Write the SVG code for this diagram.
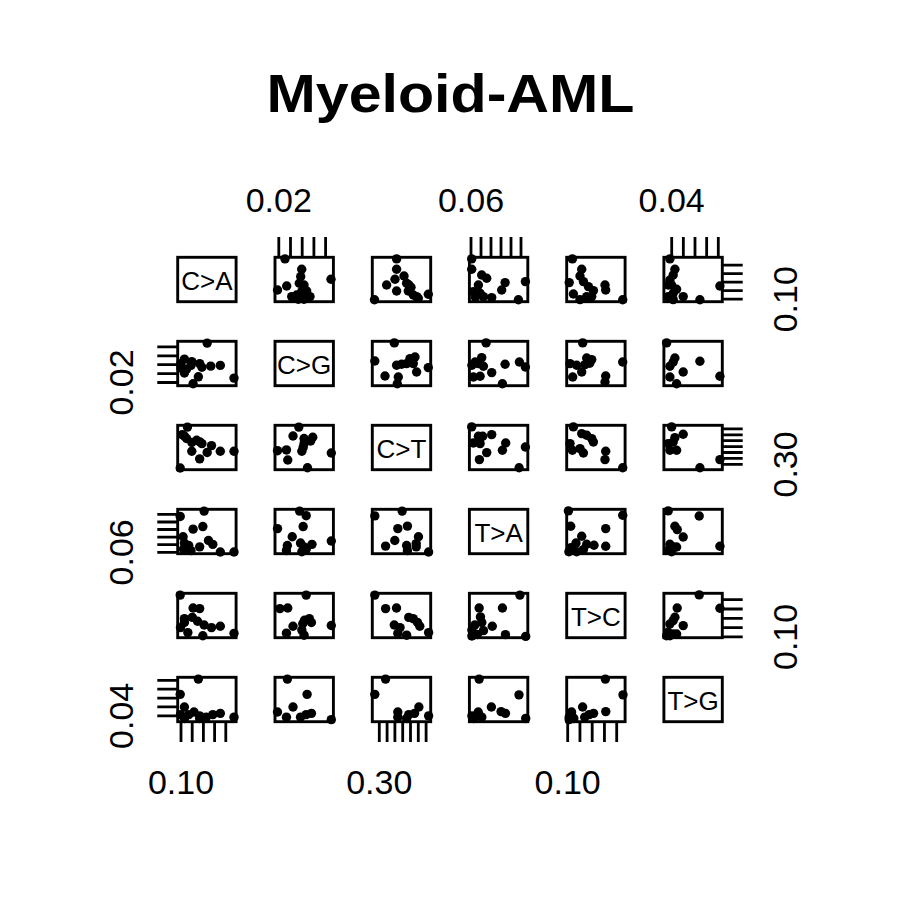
<svg xmlns="http://www.w3.org/2000/svg" xmlns:xlink="http://www.w3.org/1999/xlink" width="900" height="900" viewBox="0 0 900 900">
<style>
text{font-family:"Liberation Sans",Arial,sans-serif;fill:#000}
.title{font-size:54px;font-weight:bold;text-anchor:middle}
.ax{font-size:34px;text-anchor:middle}
.lab{font-size:26px;text-anchor:middle}
.box{fill:none;stroke:#000;stroke-width:2.9}
.tick{fill:none;stroke:#000;stroke-width:2.8}
.pts{fill:none;stroke:none}
.up{marker-start:url(#du);marker-mid:url(#du);marker-end:url(#du)}
.lo{marker-start:url(#dl);marker-mid:url(#dl);marker-end:url(#dl)}
</style>
<defs>
<marker id="du" markerUnits="userSpaceOnUse" markerWidth="20" markerHeight="20" refX="0" refY="0" orient="0" style="overflow:visible"><circle r="4.7" fill="#000"/></marker>
<marker id="dl" markerUnits="userSpaceOnUse" markerWidth="20" markerHeight="20" refX="0" refY="0" orient="0" style="overflow:visible"><ellipse rx="6.18" ry="3.57" fill="#000"/></marker>
<path id="p12" class="pts" d="M10 1.6L26.7 12L56 22L11.7 28.7L2.5 32.7L25.7 19.3L24.3 26L29 27.7L26.7 34.3L31.7 33.7L21.7 37.7L35 39.3L16.7 39.3L23.3 42L29 42"/>
<path id="p13" class="pts" d="M24.3 1.6L24.3 12L22.7 22L31.7 18.7L34.3 26L36.4 27.4L38.7 30L14.3 27.7L24.3 33.7L36 33.7L41 37.7L44.3 39.3L46 41L56 37L2.2 42.5"/>
<path id="p14" class="pts" d="M2.3 1.6L2.3 12L12.3 17.7L17.3 21L9 27.7L35.7 25.3L32.3 32.7L56 24.3L4 34.3L10.7 36L14 39.3L22.3 40.3L49 42.5L6 40"/>
<path id="p15" class="pts" d="M5.7 1.6L15 12L13.3 18.7L2.5 25.3L16.7 24.3L21.7 29.3L26.7 33.3L38.3 27.7L39 32.7L6.7 36.7L13.3 42.3L20 39.3L25 39.3L56 42.5"/>
<path id="p16" class="pts" d="M6 1.6L11 12L9.3 17.7L6 22.7L7.7 27.7L4.3 27.7L12.7 32L9.3 36L19.3 39.3L36 42.5L56 28.7L9.3 42.3L4.3 39.3"/>
<path id="p23" class="pts" d="M22 1.6L2.5 19.7L12.7 34.7L26 35.7L25 42.5L24.3 24L29.3 23L34.3 22.3L37.7 17.3L42.7 15.7L41 22.3L44.3 30.7L56 26.3"/>
<path id="p24" class="pts" d="M16.7 1.6L12.3 16.3L5.7 20.7L9 22.3L2.5 24L14 25L22.3 31.3L35.7 23L50 20.7L56 25.7L4 35.7L10.7 35L33 42.5"/>
<path id="p25" class="pts" d="M16 1.6L3.3 22.3L10 24L20 16.7L25 18.3L18.3 23.3L15 30.7L6 35.7L39 34.7L38.3 40.7L56 20.7L23 22"/>
<path id="p26" class="pts" d="M2.7 1.6L11 16.7L9.3 20.7L6 25L19.3 30.7L36 20L6 35.7L12.7 42.5L56 35"/>
<path id="p34" class="pts" d="M2.3 1.6L9 11L13.3 11L22.3 9.3L4 17.7L10.7 18.3L17.3 27.3L10 34.3L36.3 17.7L33 25L56 21.7L49.7 42.5"/>
<path id="p35" class="pts" d="M6.7 1.6L15 8.3L20 10L25 13.3L26.7 16.7L3.3 18.3L5.7 25L13.3 23.3L16.7 27.7L39 26L38.3 34.3L56 42.5"/>
<path id="p36" class="pts" d="M7.7 1.6L19.3 9L11 12.3L9.3 16.7L4.3 18.3L12.7 25L6 25L36 42.5L56 34.3"/>
<path id="p45" class="pts" d="M1.7 1.6L56 6L4 17L39 19.3L15 27L9.3 33.7L4.3 38.3L20 35L27.3 36L16.7 40.3L39 37L2.2 42.5L10 42.5"/>
<path id="p46" class="pts" d="M4.3 1.6L35.3 6.7L11 17L13.3 20.3L19.3 27.7L6 35L9.3 37.7L12.7 37.7L4.3 41L7.7 42.5L56 37"/>
<path id="p56" class="pts" d="M35.3 1.6L56 15L13.3 14.7L11 24L9.3 27.3L6 30.7L19.3 32.3L4.3 39L9.3 40.7L12.7 40.7L2.7 42.5L6 42.5"/>
</defs>
<rect width="900" height="900" fill="#fff"/>
<text class="title" x="450.5" y="111.5" textLength="368" lengthAdjust="spacingAndGlyphs">Myeloid-AML</text>

<g id="panels">
<g id="row1">
<rect class="box" x="177.7" y="257.3" width="58.4" height="44.4"/><text class="lab" x="206.9" y="290.3">C&gt;A</text>
<rect class="box" x="275" y="257.3" width="58.4" height="44.4"/>
<rect class="box" x="372.3" y="257.3" width="58.4" height="44.4"/>
<rect class="box" x="469.4" y="257.3" width="58.4" height="44.4"/>
<rect class="box" x="566.7" y="257.3" width="58.4" height="44.4"/>
<rect class="box" x="663.9" y="257.3" width="58.4" height="44.4"/>
</g>
<g id="row2">
<rect class="box" x="177.7" y="341.3" width="58.4" height="44.4"/>
<rect class="box" x="275" y="341.3" width="58.4" height="44.4"/><text class="lab" x="304.2" y="374.3">C&gt;G</text>
<rect class="box" x="372.3" y="341.3" width="58.4" height="44.4"/>
<rect class="box" x="469.4" y="341.3" width="58.4" height="44.4"/>
<rect class="box" x="566.7" y="341.3" width="58.4" height="44.4"/>
<rect class="box" x="663.9" y="341.3" width="58.4" height="44.4"/>
</g>
<g id="row3">
<rect class="box" x="177.7" y="425.3" width="58.4" height="44.4"/>
<rect class="box" x="275" y="425.3" width="58.4" height="44.4"/>
<rect class="box" x="372.3" y="425.3" width="58.4" height="44.4"/><text class="lab" x="401.5" y="458.3">C&gt;T</text>
<rect class="box" x="469.4" y="425.3" width="58.4" height="44.4"/>
<rect class="box" x="566.7" y="425.3" width="58.4" height="44.4"/>
<rect class="box" x="663.9" y="425.3" width="58.4" height="44.4"/>
</g>
<g id="row4">
<rect class="box" x="177.7" y="509.3" width="58.4" height="44.4"/>
<rect class="box" x="275" y="509.3" width="58.4" height="44.4"/>
<rect class="box" x="372.3" y="509.3" width="58.4" height="44.4"/>
<rect class="box" x="469.4" y="509.3" width="58.4" height="44.4"/><text class="lab" x="498.6" y="542.3">T&gt;A</text>
<rect class="box" x="566.7" y="509.3" width="58.4" height="44.4"/>
<rect class="box" x="663.9" y="509.3" width="58.4" height="44.4"/>
</g>
<g id="row5">
<rect class="box" x="177.7" y="593.3" width="58.4" height="44.4"/>
<rect class="box" x="275" y="593.3" width="58.4" height="44.4"/>
<rect class="box" x="372.3" y="593.3" width="58.4" height="44.4"/>
<rect class="box" x="469.4" y="593.3" width="58.4" height="44.4"/>
<rect class="box" x="566.7" y="593.3" width="58.4" height="44.4"/><text class="lab" x="595.9" y="626.3">T&gt;C</text>
<rect class="box" x="663.9" y="593.3" width="58.4" height="44.4"/>
</g>
<g id="row6">
<rect class="box" x="177.7" y="677.3" width="58.4" height="44.4"/>
<rect class="box" x="275" y="677.3" width="58.4" height="44.4"/>
<rect class="box" x="372.3" y="677.3" width="58.4" height="44.4"/>
<rect class="box" x="469.4" y="677.3" width="58.4" height="44.4"/>
<rect class="box" x="566.7" y="677.3" width="58.4" height="44.4"/>
<rect class="box" x="663.9" y="677.3" width="58.4" height="44.4"/><text class="lab" x="693.1" y="710.3">T&gt;G</text>
</g>
</g>

<g id="points">
<use href="#p12" class="up" transform="translate(275,257.3)"/>
<use href="#p12" class="lo" transform="translate(177.7,341.3) matrix(0,-0.7603,-1.3153,0,58.4,44.4)"/>
<use href="#p13" class="up" transform="translate(372.3,257.3)"/>
<use href="#p13" class="lo" transform="translate(177.7,425.3) matrix(0,-0.7603,-1.3153,0,58.4,44.4)"/>
<use href="#p14" class="up" transform="translate(469.4,257.3)"/>
<use href="#p14" class="lo" transform="translate(177.7,509.3) matrix(0,-0.7603,-1.3153,0,58.4,44.4)"/>
<use href="#p15" class="up" transform="translate(566.7,257.3)"/>
<use href="#p15" class="lo" transform="translate(177.7,593.3) matrix(0,-0.7603,-1.3153,0,58.4,44.4)"/>
<use href="#p16" class="up" transform="translate(663.9,257.3)"/>
<use href="#p16" class="lo" transform="translate(177.7,677.3) matrix(0,-0.7603,-1.3153,0,58.4,44.4)"/>
<use href="#p23" class="up" transform="translate(372.3,341.3)"/>
<use href="#p23" class="lo" transform="translate(275,425.3) matrix(0,-0.7603,-1.3153,0,58.4,44.4)"/>
<use href="#p24" class="up" transform="translate(469.4,341.3)"/>
<use href="#p24" class="lo" transform="translate(275,509.3) matrix(0,-0.7603,-1.3153,0,58.4,44.4)"/>
<use href="#p25" class="up" transform="translate(566.7,341.3)"/>
<use href="#p25" class="lo" transform="translate(275,593.3) matrix(0,-0.7603,-1.3153,0,58.4,44.4)"/>
<use href="#p26" class="up" transform="translate(663.9,341.3)"/>
<use href="#p26" class="lo" transform="translate(275,677.3) matrix(0,-0.7603,-1.3153,0,58.4,44.4)"/>
<use href="#p34" class="up" transform="translate(469.4,425.3)"/>
<use href="#p34" class="lo" transform="translate(372.3,509.3) matrix(0,-0.7603,-1.3153,0,58.4,44.4)"/>
<use href="#p35" class="up" transform="translate(566.7,425.3)"/>
<use href="#p35" class="lo" transform="translate(372.3,593.3) matrix(0,-0.7603,-1.3153,0,58.4,44.4)"/>
<use href="#p36" class="up" transform="translate(663.9,425.3)"/>
<use href="#p36" class="lo" transform="translate(372.3,677.3) matrix(0,-0.7603,-1.3153,0,58.4,44.4)"/>
<use href="#p45" class="up" transform="translate(566.7,509.3)"/>
<use href="#p45" class="lo" transform="translate(469.4,593.3) matrix(0,-0.7603,-1.3153,0,58.4,44.4)"/>
<use href="#p46" class="up" transform="translate(663.9,509.3)"/>
<use href="#p46" class="lo" transform="translate(469.4,677.3) matrix(0,-0.7603,-1.3153,0,58.4,44.4)"/>
<use href="#p56" class="up" transform="translate(663.9,593.3)"/>
<use href="#p56" class="lo" transform="translate(566.7,677.3) matrix(0,-0.7603,-1.3153,0,58.4,44.4)"/>
</g>

<g id="axes">
<path class="tick" d="M278.8 237V257.3M290.5 237V257.3M302.2 237V257.3M313.9 237V257.3M325.6 237V257.3
M471 237V257.3M481 237V257.3M491 237V257.3M501 237V257.3M511 237V257.3M521 237V257.3
M671.7 237V257.3M683.35 237V257.3M695 237V257.3M706.65 237V257.3M718.3 237V257.3
M181 721.7V742M192.2 721.7V742M203.4 721.7V742M214.6 721.7V742M225.8 721.7V742
M379.3 721.7V742M387.1 721.7V742M394.9 721.7V742M402.7 721.7V742M410.5 721.7V742M418.3 721.7V742M426.1 721.7V742
M567.7 721.7V742M579.95 721.7V742M592.2 721.7V742M604.45 721.7V742M616.7 721.7V742
M157.3 382.5H177.7M157.3 373.6H177.7M157.3 364.7H177.7M157.3 355.8H177.7M157.3 346.9H177.7
M157.3 552.3H177.7M157.3 544.7H177.7M157.3 537.1H177.7M157.3 529.5H177.7M157.3 522H177.7M157.3 514.4H177.7
M157.3 715.8H177.7M157.3 706.9H177.7M157.3 698.1H177.7M157.3 689.2H177.7M157.3 680.3H177.7
M722.3 299.2H742.7M722.3 290.7H742.7M722.3 282.2H742.7M722.3 273.7H742.7M722.3 265.1H742.7
M722.3 464.4H742.7M722.3 458.4H742.7M722.3 452.5H742.7M722.3 446.6H742.7M722.3 440.7H742.7M722.3 434.8H742.7M722.3 428.8H742.7
M722.3 636.9H742.7M722.3 627.6H742.7M722.3 618.3H742.7M722.3 609H742.7M722.3 599.7H742.7"/>
<text class="ax" x="278.8" y="211.5">0.02</text>
<text class="ax" x="471" y="211.5">0.06</text>
<text class="ax" x="671.7" y="211.5">0.04</text>
<text class="ax" x="181" y="794">0.10</text>
<text class="ax" x="379.3" y="794">0.30</text>
<text class="ax" x="567.7" y="794">0.10</text>
<text class="ax" transform="translate(133,382.5) rotate(-90)">0.02</text>
<text class="ax" transform="translate(133,552.3) rotate(-90)">0.06</text>
<text class="ax" transform="translate(133,715.8) rotate(-90)">0.04</text>
<text class="ax" transform="translate(797,299.2) rotate(-90)">0.10</text>
<text class="ax" transform="translate(797,464.4) rotate(-90)">0.30</text>
<text class="ax" transform="translate(797,636.9) rotate(-90)">0.10</text>
</g>
</svg>
